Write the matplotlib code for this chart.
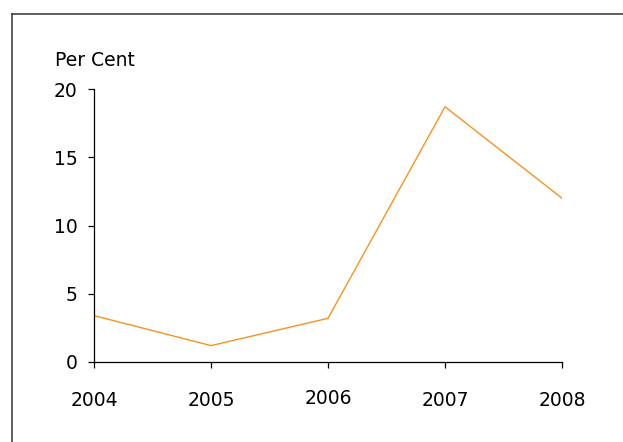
import matplotlib
matplotlib.use("Agg")
from matplotlib import pyplot as plt
from matplotlib.lines import Line2D
import matplotlib.transforms as mtransforms

years = ["2004", "2005", "2006", "2007", "2008"]
per_cent = [3.4, 1.2, 3.2, 18.7, 12.0]
y_ticks = [0, 5, 10, 15, 20]

LINE_COLOR = "#F7931E"

fig = plt.figure(figsize=(6.23, 4.42), dpi=100)
ax = fig.add_axes([0.1509, 0.181, 0.7512, 0.6176])

ax.plot(range(len(years)), per_cent, color=LINE_COLOR, linewidth=1.0)

ax.set_xlim(0, len(years) - 1)
ax.set_ylim(0, 20)
ax.set_xticks(range(len(years)))
ax.set_xticklabels(years)
ax.set_yticks(y_ticks)

for side in ("top", "right"):
    ax.spines[side].set_visible(False)
for side in ("left", "bottom"):
    ax.spines[side].set_linewidth(0.9)
    ax.spines[side].set_color("black")

ax.tick_params(axis="x", direction="out", length=4.0, width=0.9, pad=17, labelsize=13.5)
ax.tick_params(axis="y", direction="out", length=4.0, width=0.9, pad=8, labelsize=13.5)

# the 2006 label sits a touch higher than the others
lbl = ax.get_xticklabels()[2]
lbl.set_transform(lbl.get_transform() + mtransforms.ScaledTranslation(0, 2 / 100, fig.dpi_scale_trans))

fig.text(55 / 623, 1 - 60 / 442, "Per Cent", fontsize=13.5, ha="left", va="center")

# frame around the chart (right and bottom edges fall outside the canvas)
frame_color = "#333333"
fig.add_artist(Line2D([12 / 623, 1.0], [1 - 13.5 / 442, 1 - 13.5 / 442],
                      transform=fig.transFigure, color=frame_color, linewidth=1.1))
fig.add_artist(Line2D([12 / 623, 12 / 623], [0.0, 1 - 13.5 / 442],
                      transform=fig.transFigure, color=frame_color, linewidth=1.1))

fig.savefig("out.png", dpi=100)
